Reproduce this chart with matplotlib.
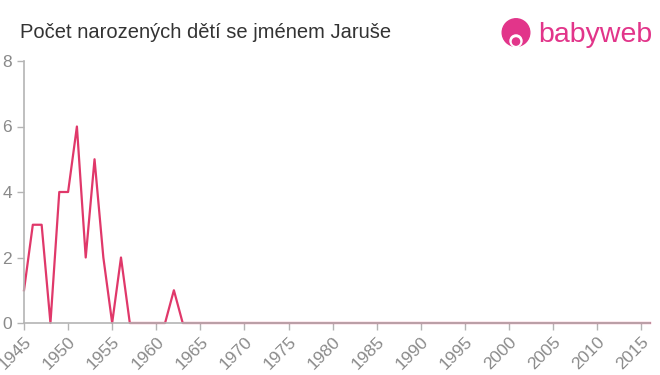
import matplotlib.pyplot as plt
from matplotlib.patches import Circle

plt.rcParams['font.family'] = ['Liberation Sans', 'DejaVu Sans']

years = list(range(1945, 2017))
counts_early = [1, 3, 3, 0, 4, 4, 6, 2, 5, 2, 0, 2, 0, 0, 0, 0, 0, 1, 0]
counts = counts_early + [0] * (len(years) - len(counts_early))
xticks = list(range(1945, 2016, 5))
yticks = [0, 2, 4, 6, 8]

line_color = '#e0386a'
axis_color = '#b4b4b4'
label_color = '#8a8a8a'

fig = plt.figure(figsize=(6.6, 3.75), dpi=100)
ax = fig.add_axes([24 / 660, 1 - 323 / 375, (650 - 24) / 660, (323 - 61) / 375])
ax.plot(years, counts, color=line_color, linewidth=1.6, clip_on=False)

ax.set_xlim(1945, 2016)
ax.set_ylim(0, 8)
ax.set_xticks(xticks)
ax.set_xticklabels([str(y) for y in xticks], rotation=45, ha='right', rotation_mode='anchor')
ax.set_yticks(yticks)
ax.tick_params(colors=axis_color, labelcolor=label_color, labelsize=12.5, length=5, width=1)
ax.tick_params(axis='x', pad=3)
for side in ['top', 'right']:
    ax.spines[side].set_visible(False)
for side in ['left', 'bottom']:
    ax.spines[side].set_color(axis_color)
    ax.spines[side].set_linewidth(1.2)

fig.text(20 / 660, 1 - 32 / 375, 'Počet narozených dětí se jménem Jaruše',
         fontsize=14.5, color='#333333', va='center', ha='left')

# babyweb logo
logo_color = '#e2358a'
lax = fig.add_axes([501 / 660, 1 - 50 / 375, 30 / 660, 34 / 375])
lax.set_xlim(0, 1)
lax.set_ylim(0, 1.13)
lax.set_aspect('equal')
lax.axis('off')
lax.add_patch(Circle((0.5, 0.58), 0.46, color=logo_color))
lax.add_patch(Circle((0.5, 0.3), 0.2, color='white'))
lax.add_patch(Circle((0.5, 0.28), 0.12, color=logo_color))
fig.text(538 / 660, 1 - 35 / 375, 'babyweb', fontsize=20.5, color=logo_color,
         va='center', ha='left')

fig.savefig('out.png', dpi=100)
